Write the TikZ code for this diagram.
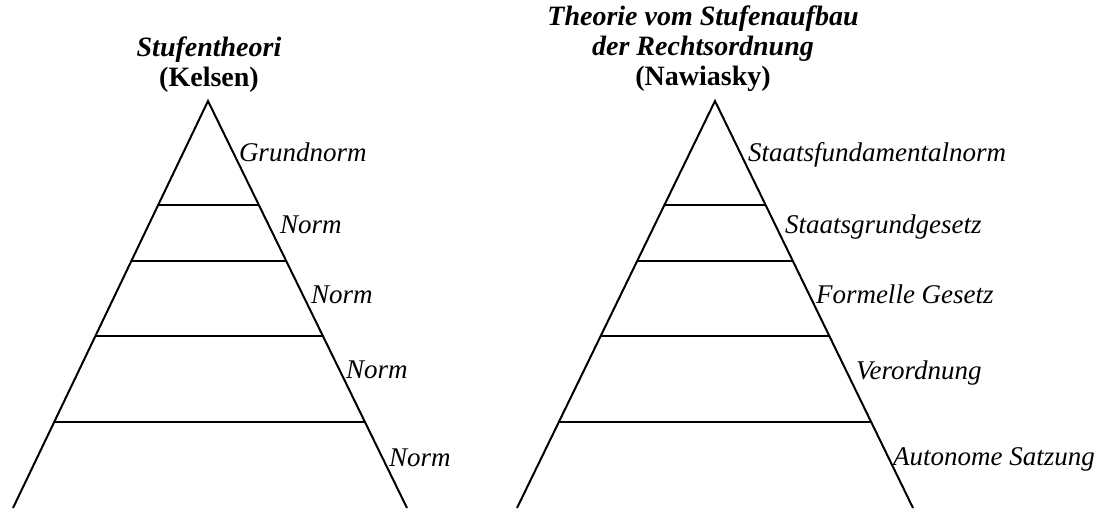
\documentclass[tikz,border=0pt]{standalone}
\usepackage{fontspec}
\setmainfont{Liberation Serif}
\usepackage{tikz}
\usetikzlibrary{calc}

\tikzset{
    stufe/.style={anchor=base west, inner sep=0pt, font=\fontsize{10.8}{13}\selectfont\itshape},
    titel/.style={anchor=south, inner sep=0pt, align=center, font=\fontsize{11.2}{12}\selectfont\bfseries},
}

\begin{document}
\begin{tikzpicture}[x=0.4pt, y=-0.4pt, line width=0.8pt]
    \useasboundingbox (0,0) rectangle (1112,508);

    % Kelsen
    \coordinate (k0) at (208, 101);
    \coordinate (kl) at (13, 508);
    \coordinate (kr) at (407, 508);
    \node[titel] at (209, 93) (kt) {\textit{Stufentheori}\\(Kelsen)};
    \draw (kl) -- (k0) -- (kr);
    \draw ($(k0)!0.256!(kl)$) -- ($(k0)!0.256!(kr)$);
    \draw ($(k0)!0.393!(kl)$) -- ($(k0)!0.393!(kr)$);
    \draw ($(k0)!0.577!(kl)$) -- ($(k0)!0.577!(kr)$);
    \draw ($(k0)!0.789!(kl)$) -- ($(k0)!0.789!(kr)$);
    \node[stufe] at (238, 161) (k1) {Grundnorm};
    \node[stufe] at (279, 233) (k2) {Norm};
    \node[stufe] at (310, 303) (k3) {Norm};
    \node[stufe] at (345, 378) (k4) {Norm};
    \node[stufe] at (388, 466) (k5) {Norm};

    % Nawiasky
    \coordinate (n0) at (715, 101);
    \coordinate (nl) at (517, 508);
    \coordinate (nr) at (913, 508);
    \node[titel] at (703, 93) (nt) {\textit{Theorie vom Stufenaufbau}\\\textit{der Rechtsordnung}\\(Nawiasky)};
    \draw (nl) -- (n0) -- (nr);
    \draw ($(n0)!0.256!(nl)$) -- ($(n0)!0.256!(nr)$);
    \draw ($(n0)!0.393!(nl)$) -- ($(n0)!0.393!(nr)$);
    \draw ($(n0)!0.577!(nl)$) -- ($(n0)!0.577!(nr)$);
    \draw ($(n0)!0.789!(nl)$) -- ($(n0)!0.789!(nr)$);
    \node[stufe] at (747, 161) (n1) {Staatsfundamentalnorm};
    \node[stufe] at (784, 233) (n2) {Staatsgrundgesetz};
    \node[stufe] at (815, 303) (n3) {Formelle Gesetz};
    \node[stufe] at (855, 379) (n4) {Verordnung};
    \node[stufe] at (892, 465) (n5) {Autonome Satzung};
\end{tikzpicture}
\end{document}
